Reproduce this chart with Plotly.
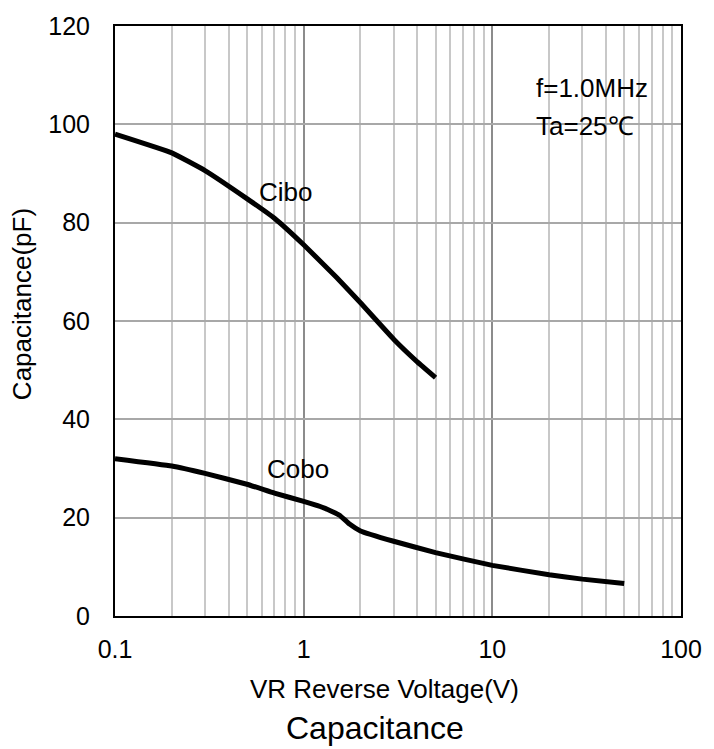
import math
import plotly.graph_objects as go

# Reverse voltage (V) and measured capacitance (pF)
cibo_v = [0.1, 0.2, 0.3, 0.5, 0.7, 1.0, 1.5, 2.0, 3.0, 4.0, 5.0]
cibo_pf = [98.0, 94.2, 90.6, 84.9, 80.9, 75.5, 68.8, 63.7, 56.3, 51.7, 48.5]

cobo_v = [0.1, 0.2, 0.3, 0.5, 0.7, 1.0, 1.3, 1.55, 1.75, 2.0, 3.0, 5.0, 10.0, 20.0, 30.0, 50.0]
cobo_pf = [32.0, 30.5, 29.0, 26.8, 25.0, 23.3, 21.9, 20.5, 18.7, 17.3, 15.2, 12.9, 10.3, 8.4, 7.5, 6.6]

x_ticks = [0.1, 1, 10, 100]
x_ticktext = ["0.1", "1", "10", "100"]
x_minor = [m * d for d in (0.1, 1, 10) for m in range(2, 10)]
y_ticks = [0, 20, 40, 60, 80, 100, 120]

FONT = "Liberation Sans, Arial, Helvetica, sans-serif"

fig = go.Figure()
for xs, ys, name in ((cibo_v, cibo_pf, "Cibo"), (cobo_v, cobo_pf, "Cobo")):
    fig.add_trace(go.Scatter(
        x=xs, y=ys, mode="lines", name=name,
        line=dict(color="black", width=5, shape="spline", smoothing=0.3),
        showlegend=False,
    ))

plot_l, plot_r, plot_t, plot_b = 115, 690, 21, 616
W, H = 714, 749

fig.update_layout(
    width=W, height=H,
    margin=dict(l=plot_l, r=W - plot_r, t=plot_t, b=H - plot_b),
    paper_bgcolor="white", plot_bgcolor="white",
    font=dict(family=FONT, size=25, color="black"),
    xaxis=dict(
        type="log", range=[-1, 2],
        tickvals=x_ticks, ticktext=x_ticktext,
        showgrid=True, gridcolor="#8c8c8c", gridwidth=2,
        minor=dict(tickvals=x_minor, showgrid=True, gridcolor="#c8c8c8", gridwidth=2, ticks=""),
        showline=True, linecolor="black", linewidth=2, mirror=True,
        ticks="outside", ticklen=10, tickcolor="rgba(0,0,0,0)",
        tickfont=dict(size=25), zeroline=False,
    ),
    yaxis=dict(
        range=[0, 120], tickvals=y_ticks,
        showgrid=True, gridcolor="#a8a8a8", gridwidth=2,
        showline=True, linecolor="black", linewidth=2, mirror=True,
        ticks="outside", ticklen=18, tickcolor="rgba(0,0,0,0)",
        tickfont=dict(size=25), zeroline=False,
    ),
)


def px_to_paper(x, y):
    return (x - plot_l) / (plot_r - plot_l), (plot_b - y) / (plot_b - plot_t)


annotations = [
    dict(text="Cibo", x=math.log10(0.80), y=86.3, xref="x", yref="y",
         xanchor="center", yanchor="middle", showarrow=False, font=dict(size=26)),
    dict(text="Cobo", x=math.log10(0.93), y=29.8, xref="x", yref="y",
         xanchor="center", yanchor="middle", showarrow=False, font=dict(size=26)),
]
for text, px, py, size, kw in (
    ("f=1.0MHz", 541, 84, 26, dict(xanchor="left")),
    ("Ta=25℃", 541, 122, 26, dict(xanchor="left")),
    ("VR Reverse Voltage(V)", 389, 690, 26, dict(xanchor="center")),
    ("Capacitance", 379, 729, 32, dict(xanchor="center")),
    ("Capacitance(pF)", 20, 301, 26, dict(xanchor="center", textangle=-90)),
):
    fx, fy = px_to_paper(px, py)
    annotations.append(dict(text=text, x=fx, y=fy, xref="paper", yref="paper",
                            yanchor="middle", showarrow=False, font=dict(size=size), **kw))

fig.update_layout(annotations=annotations)

fig.write_html("out.html")
